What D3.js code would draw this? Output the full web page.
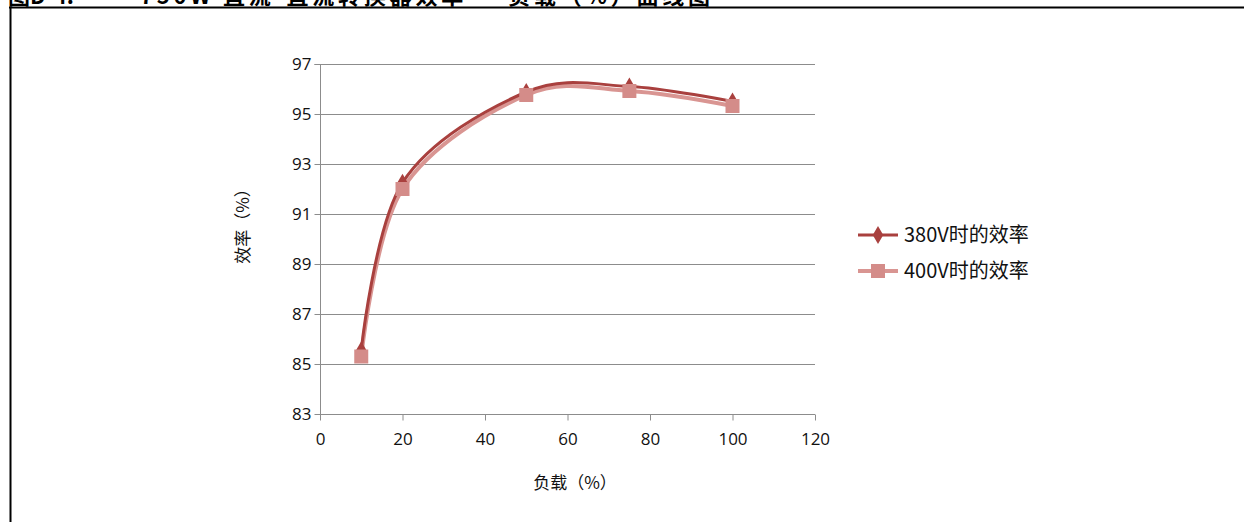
<!DOCTYPE html>
<html><head><meta charset="utf-8">
<script src="https://cdn.jsdelivr.net/npm/d3@7"></script>
<style>body{margin:0;background:#fff;overflow:hidden}</style>
</head><body>
<script>
const loads = [10, 20, 50, 75, 100];
const eff380 = [85.55, 92.25, 95.88, 96.1, 95.5];
const eff400 = [85.3, 92.0, 95.76, 95.92, 95.32];
const seriesNames = ["380V时的效率", "400V时的效率"];
const xTicks = [0, 20, 40, 60, 80, 100, 120];
const yTicks = [83, 85, 87, 89, 91, 93, 95, 97];
const titleParts = ["图D-4:", "750W 直流-直流转换器效率 — 负载（%）曲线图"];
const xTitle = "负载（%）";
const yTitle = "效率（%）";

const W = 1244, H = 522;
const svg = d3.select("body").append("svg").attr("width", W).attr("height", H);

// title (cut at top) and frame
svg.append("text").attr("x", 8).attr("y", 4).text(titleParts[0])
  .attr("font-family", "Noto Sans CJK SC").attr("font-weight", "bold").attr("font-size", 22).attr("fill", "#000");
svg.append("text").attr("x", 140).attr("y", 4).text(titleParts[1])
  .attr("textLength", 570).attr("lengthAdjust", "spacing")
  .attr("font-family", "Noto Sans CJK SC").attr("font-weight", "bold").attr("font-size", 22).attr("fill", "#000");
svg.append("line").attr("x1", 9).attr("x2", 1244).attr("y1", 7.5).attr("y2", 7.5).attr("stroke", "#000").attr("stroke-width", 2);
svg.append("line").attr("x1", 10.5).attr("x2", 10.5).attr("y1", 7).attr("y2", H).attr("stroke", "#000").attr("stroke-width", 2);

const x = d3.scaleLinear().domain([0, 120]).range([320, 815]);
const y = d3.scaleLinear().domain([83, 97]).range([414, 64]);

// gridlines
svg.append("g").selectAll("line").data(yTicks).join("line")
  .attr("x1", x(0)).attr("x2", x(120)).attr("y1", d => Math.round(y(d)) + 0.5).attr("y2", d => Math.round(y(d)) + 0.5)
  .attr("stroke", "#8c8c8c").attr("stroke-width", 1);

// y axis
const ya = svg.append("g").attr("transform", `translate(${x(0) + 0.5},0)`)
  .call(d3.axisLeft(y).tickValues(yTicks).tickSize(6).tickPadding(3).tickFormat(d3.format("d")));
ya.select(".domain").attr("stroke", "#8c8c8c").attr("d", `M-6,${y(97)+0.5}H0V${y(83)+0.5}`);
ya.selectAll(".tick line").attr("stroke", "#8c8c8c");
ya.selectAll(".tick text").attr("font-family", "Open Sans").attr("font-size", 17).attr("fill", "#111");

// x axis
const xa = svg.append("g").attr("transform", `translate(0,${Math.round(y(83)) + 0.5})`)
  .call(d3.axisBottom(x).tickValues(xTicks).tickSize(6).tickPadding(12).tickFormat(d3.format("d")));
xa.select(".domain").attr("stroke", "#8c8c8c").attr("d", `M${x(0)},0H${x(120)}`);
xa.selectAll(".tick line").attr("stroke", "#8c8c8c");
xa.selectAll(".tick text").attr("font-family", "Open Sans").attr("font-size", 17).attr("fill", "#111");

// axis titles
svg.append("text").attr("x", 575).attr("y", 489).attr("text-anchor", "middle").text(xTitle)
  .attr("font-family", "Noto Sans CJK SC").attr("font-size", 17).attr("fill", "#111");
svg.append("text").attr("transform", "translate(249,222) rotate(-90)").attr("text-anchor", "middle").text(yTitle)
  .attr("font-family", "Noto Sans CJK SC").attr("font-size", 17).attr("fill", "#111");

const colors = ["#A9403E", "#D99592"];
const markerColors = ["#A9403E", "#D48C89"];
const line = d3.line().x(d => x(d[0])).y(d => y(d[1])).curve(d3.curveCatmullRom.alpha(0));

const data400 = loads.map((l, i) => [l, eff400[i]]);
const data380 = loads.map((l, i) => [l, eff380[i]]);

svg.append("path").datum(data400).attr("d", line).attr("fill", "none").attr("stroke", colors[1]).attr("stroke-width", 4);
svg.append("path").datum(data380).attr("d", line).attr("fill", "none").attr("stroke", colors[0]).attr("stroke-width", 3);

const diamond = d3.symbol().type(d3.symbolDiamond).size(95);
svg.append("g").selectAll("path").data(data380).join("path")
  .attr("transform", d => `translate(${x(d[0])},${y(d[1])})`).attr("d", diamond).attr("fill", markerColors[0]);
svg.append("g").selectAll("rect").data(data400).join("rect")
  .attr("x", d => x(d[0]) - 7).attr("y", d => y(d[1]) - 7).attr("width", 14).attr("height", 14).attr("fill", markerColors[1]);

// legend
const lg = svg.append("g");
[0, 1].forEach(i => {
  const yy = 235 + i * 36;
  lg.append("line").attr("x1", 858).attr("x2", 898).attr("y1", yy).attr("y2", yy).attr("stroke", colors[i]).attr("stroke-width", i ? 4 : 3);
  if (i === 0) lg.append("path").attr("transform", `translate(878,${yy})`).attr("d", diamond).attr("fill", markerColors[0]);
  else lg.append("rect").attr("x", 871).attr("y", yy - 7).attr("width", 14).attr("height", 14).attr("fill", markerColors[1]);
  lg.append("text").attr("x", 904).attr("y", yy + 7).text(seriesNames[i])
    .attr("font-family", "Noto Sans CJK SC").attr("font-size", 20).attr("fill", "#111");
});
</script>
</body></html>
